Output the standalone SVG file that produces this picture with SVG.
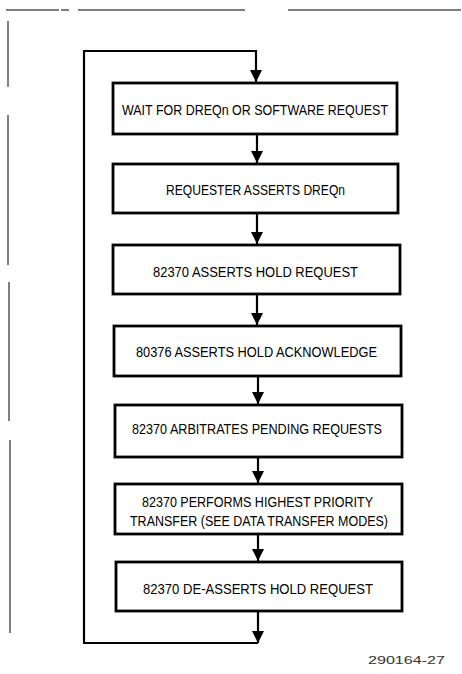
<svg xmlns="http://www.w3.org/2000/svg" width="462" height="674" viewBox="0 0 462 674">
<style>
.frame{stroke:#555;stroke-width:1.5;fill:none}
.box{fill:#fff;stroke:#000;stroke-width:2.8}
.lbl{font-family:"Liberation Sans",Arial,sans-serif;font-size:14px;fill:#000}
.conn{stroke:#000;stroke-width:2.2;fill:none}
.id{font-family:"Liberation Sans",Arial,sans-serif;font-size:10px;fill:#333}
</style>
<defs>
<marker id="ah" markerUnits="userSpaceOnUse" markerWidth="12" markerHeight="12" viewBox="0 0 12 12" refX="12" refY="6" orient="auto">
<path d="M0,0 L12,6 L0,12 Z" fill="#000"/>
</marker>
</defs>
<rect width="462" height="674" fill="#fff"/>
<g id="frame">
<path class="frame" d="M6,10 H59 M61,10 H69 M78,10 H245 M288,10 H461"/>
<path class="frame" d="M8,21 V87 M8,115 V265 M9,282 V421 M10,440 V633"/>
</g>
<g id="connectors">
<path class="conn" d="M257,134 V163" marker-end="url(#ah)"/>
<path class="conn" d="M257,213 V244" marker-end="url(#ah)"/>
<path class="conn" d="M257,294 V325" marker-end="url(#ah)"/>
<path class="conn" d="M258,376 V404" marker-end="url(#ah)"/>
<path class="conn" d="M258,457 V483" marker-end="url(#ah)"/>
<path class="conn" d="M258,534 V561" marker-end="url(#ah)"/>
<path class="conn" d="M258,611 V643" marker-end="url(#ah)"/>
<path class="conn" d="M258,643 H84 V51 H256 V82" marker-end="url(#ah)"/>
</g>
<g id="n1">
<rect class="box" x="113" y="83" width="284" height="51"/>
<text class="lbl" x="122" y="115" textLength="266" lengthAdjust="spacingAndGlyphs">WAIT FOR DREQn OR SOFTWARE REQUEST</text>
</g>
<g id="n2">
<rect class="box" x="113" y="164" width="285" height="49"/>
<text class="lbl" x="166" y="195" textLength="179" lengthAdjust="spacingAndGlyphs">REQUESTER ASSERTS DREQn</text>
</g>
<g id="n3">
<rect class="box" x="113" y="245" width="287" height="49"/>
<text class="lbl" x="153" y="277" textLength="205" lengthAdjust="spacingAndGlyphs">82370 ASSERTS HOLD REQUEST</text>
</g>
<g id="n4">
<rect class="box" x="114" y="326" width="287" height="50"/>
<text class="lbl" x="136" y="357" textLength="241" lengthAdjust="spacingAndGlyphs">80376 ASSERTS HOLD ACKNOWLEDGE</text>
</g>
<g id="n5">
<rect class="box" x="115" y="405" width="287" height="52"/>
<text class="lbl" x="132" y="434" textLength="250" lengthAdjust="spacingAndGlyphs">82370 ARBITRATES PENDING REQUESTS</text>
</g>
<g id="n6">
<rect class="box" x="115" y="484" width="287" height="50"/>
<text class="lbl" x="142" y="507" textLength="231" lengthAdjust="spacingAndGlyphs">82370 PERFORMS HIGHEST PRIORITY</text>
<text class="lbl" x="130" y="526" textLength="258" lengthAdjust="spacingAndGlyphs">TRANSFER (SEE DATA TRANSFER MODES)</text>
</g>
<g id="n7">
<rect class="box" x="116" y="562" width="286" height="49"/>
<text class="lbl" x="143" y="594" textLength="230" lengthAdjust="spacingAndGlyphs">82370 DE-ASSERTS HOLD REQUEST</text>
</g>
<text class="id" x="368" y="664" textLength="77" lengthAdjust="spacingAndGlyphs">290164-27</text>
</svg>
